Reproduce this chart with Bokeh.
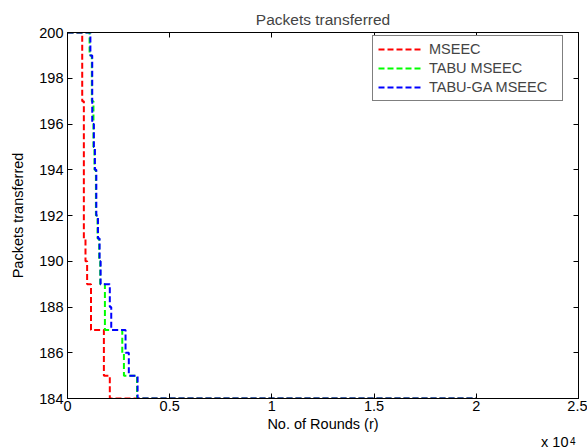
from bokeh.plotting import figure
from bokeh.models import LinearAxis, FixedTicker, Legend, LegendItem, Range1d, Title
from bokeh.embed import file_html
from bokeh.resources import INLINE

# Data (rounds, packets transferred)
mseec_x = [0, 720, 800, 880, 960, 1150, 1780, 2070, 20000]
mseec_y = [200, 197, 191, 190, 189, 187, 185, 184, 184]

tabu_x = [0, 1080, 1190, 1270, 1320, 1390, 1470, 1550, 1600, 1830, 2680, 2760, 3400, 20000]
tabu_y = [200, 199, 197, 195, 194, 192, 191, 190, 189, 187, 186, 185, 184, 184]

tabuga_x = [0, 1120, 1210, 1290, 1340, 1410, 1490, 1570, 1620, 2070, 2140, 2840, 3000, 3430, 20000]
tabuga_y = [200, 199, 196, 195, 194, 192, 191, 190, 189, 188, 187, 186, 185, 184, 184]

x_ticks = [0, 5000, 10000, 15000, 20000, 25000]
x_tick_labels = ["0", "0.5", "1", "1.5", "2", "2.5"]
y_ticks = [184, 186, 188, 190, 192, 194, 196, 198, 200]

FONT = "Liberation Sans"
FS = "14.5px"

p = figure(width=587, height=448, output_backend="svg", toolbar_location=None,
           x_range=Range1d(0, 25000), y_range=Range1d(184, 200),
           min_border_left=67, min_border_right=9, min_border_top=32, min_border_bottom=47,
           x_axis_label="No. of Rounds (r)", y_axis_label="Packets transferred")
p.background_fill_color = "white"
p.border_fill_color = "white"
p.outline_line_color = "black"
p.outline_line_width = 1
p.xgrid.visible = False
p.ygrid.visible = False

p.title.text = "Packets transferred"
p.title.align = "center"
p.title.text_font = FONT
p.title.text_font_size = "15.5px"
p.title.text_font_style = "normal"
p.title.standoff = 9

for ax in p.xaxis + p.yaxis:
    ax.major_tick_in = 5
    ax.major_tick_out = 0
    ax.minor_tick_line_color = None
    ax.axis_line_color = "black"
    ax.major_label_text_font = FONT
    ax.major_label_text_font_size = FS
    ax.major_label_text_color = "black"
    ax.axis_label_text_font = FONT
    ax.axis_label_text_font_size = FS
    ax.axis_label_text_font_style = "normal"
    ax.axis_label_text_color = "black"

p.xaxis.ticker = FixedTicker(ticks=x_ticks)
p.xaxis.major_label_overrides = {t: l for t, l in zip(x_ticks, x_tick_labels)}
p.xaxis.major_label_standoff = 2
p.xaxis.axis_label_standoff = 2
p.yaxis.ticker = FixedTicker(ticks=y_ticks)
p.yaxis.major_label_standoff = 4
p.yaxis.axis_label_standoff = 10

top = LinearAxis(ticker=FixedTicker(ticks=x_ticks),
                 major_label_overrides={t: "" for t in x_ticks},
                 major_tick_in=5, major_tick_out=0, minor_tick_line_color=None,
                 major_label_standoff=0)
right = LinearAxis(ticker=FixedTicker(ticks=y_ticks),
                   major_label_overrides={t: "" for t in y_ticks},
                   major_tick_in=5, major_tick_out=0, minor_tick_line_color=None,
                   major_label_standoff=0)
p.add_layout(top, "above")
p.add_layout(right, "right")

dash = "6 3"
r1 = p.step(mseec_x, mseec_y, mode="after", line_color="#ff0000", line_width=2, line_dash=dash)
r2 = p.step(tabu_x, tabu_y, mode="after", line_color="#00ff00", line_width=2, line_dash=dash)
r3 = p.step(tabuga_x, tabuga_y, mode="after", line_color="#0000ff", line_width=2, line_dash=dash)

legend = Legend(items=[LegendItem(label="MSEEC", renderers=[r1]),
                       LegendItem(label="TABU MSEEC", renderers=[r2]),
                       LegendItem(label="TABU-GA MSEEC", renderers=[r3])],
                location=(305, 297))
legend.label_text_font = FONT
legend.label_text_font_size = FS
legend.border_line_color = "black"
legend.border_line_width = 1
legend.background_fill_color = "white"
legend.background_fill_alpha = 1
legend.glyph_width = 43
legend.glyph_height = 14
legend.label_height = 14
legend.label_width = 128
legend.spacing = 3
legend.padding = 5
legend.margin = 0
legend.label_standoff = 8
p.add_layout(legend)

# "x 10^4" multiplier below the x axis, right aligned
exp_title = Title(text="4", align="right", offset=3, standoff=-21,
                  text_font=FONT, text_font_size="10px", text_font_style="normal",
                  text_color="black")
mult_title = Title(text="x 10", align="right", vertical_align="middle", offset=10, standoff=-4,
                   text_font=FONT, text_font_size=FS, text_font_style="normal",
                   text_color="black")
p.add_layout(exp_title, "below")
p.add_layout(mult_title, "below")

open("out.html", "w").write(file_html(p, INLINE))
